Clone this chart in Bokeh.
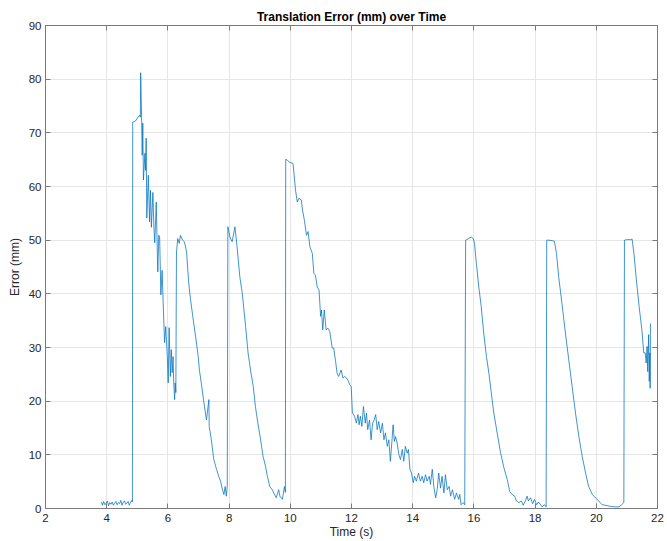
from bokeh.plotting import figure
from bokeh.models import LinearAxis, FixedTicker, Range1d
from bokeh.embed import file_html
from bokeh.resources import INLINE

# ---- data ----
time_s = [
    3.83, 3.86, 3.90, 3.94, 3.98, 4.02, 4.06, 4.10, 4.14, 4.18, 4.22, 4.26, 4.30, 4.34,
    4.38, 4.42, 4.46, 4.50, 4.54, 4.58, 4.62, 4.66, 4.70, 4.74, 4.78, 4.82, 4.84,
    4.85, 4.94, 5.01, 5.08, 5.10, 5.11, 5.14, 5.16, 5.18, 5.20, 5.25, 5.27, 5.29, 5.31,
    5.36, 5.40, 5.43, 5.46, 5.51, 5.54, 5.57, 5.62, 5.65, 5.67, 5.70, 5.73, 5.77, 5.81,
    5.87, 5.89, 5.93, 5.98, 6.01, 6.04, 6.08, 6.11, 6.14, 6.17, 6.19, 6.22, 6.24, 6.26,
    6.28, 6.32, 6.37, 6.41, 6.48, 6.54, 6.61, 6.68, 6.74, 6.83, 6.92, 6.99, 7.03, 7.09,
    7.17, 7.26, 7.34, 7.35, 7.42, 7.50, 7.59, 7.66, 7.72, 7.77, 7.83, 7.87, 7.91, 7.94,
    7.96, 8.03, 8.10, 8.19, 8.26, 8.35, 8.43, 8.54, 8.62, 8.70, 8.79, 8.86, 8.94, 9.03,
    9.11, 9.19, 9.25, 9.33, 9.41, 9.46, 9.54, 9.62, 9.66, 9.74, 9.81, 9.84,
    9.85, 9.90, 9.98, 10.09, 10.17, 10.23, 10.28, 10.36, 10.40, 10.46, 10.53, 10.58,
    10.64, 10.72, 10.77, 10.82, 10.88, 10.94, 10.99, 11.02, 11.06, 11.11, 11.17, 11.23,
    11.29, 11.37, 11.42, 11.48, 11.53, 11.58, 11.66, 11.72, 11.77, 11.84, 11.90, 11.94,
    11.99, 12.03, 12.10, 12.16, 12.21, 12.25, 12.29, 12.34, 12.39, 12.45, 12.49, 12.53,
    12.59, 12.64, 12.69, 12.74, 12.79, 12.84, 12.89, 12.95, 13.01, 13.06, 13.11, 13.17,
    13.22, 13.27, 13.32, 13.36, 13.40, 13.44, 13.49, 13.55, 13.60, 13.66, 13.71, 13.76,
    13.82, 13.86, 13.91, 13.96, 14.02, 14.06, 14.12, 14.19, 14.25, 14.31, 14.36, 14.42,
    14.47, 14.54, 14.58, 14.64, 14.69, 14.75, 14.80, 14.85, 14.91, 14.96, 15.02, 15.07,
    15.13, 15.19, 15.24, 15.30, 15.37, 15.43, 15.50, 15.54, 15.58, 15.65, 15.70,
    15.73, 15.83, 15.91, 15.98, 16.02, 16.08, 16.16, 16.24, 16.32, 16.41, 16.49, 16.57,
    16.65, 16.76, 16.87, 16.98, 17.09, 17.17, 17.25, 17.33, 17.39, 17.47, 17.55, 17.61,
    17.68, 17.74, 17.78, 17.85, 17.92, 17.98, 18.05, 18.11, 18.18, 18.23, 18.31, 18.36,
    18.38, 18.45, 18.56, 18.63, 18.70, 18.77, 18.89, 18.99, 19.10, 19.21, 19.32, 19.43,
    19.54, 19.65, 19.75, 19.87, 19.97, 20.08, 20.19, 20.30, 20.46, 20.63, 20.74, 20.81,
    20.90, 20.92, 21.01, 21.12, 21.17, 21.23, 21.31, 21.40, 21.49, 21.55, 21.60, 21.63,
    21.66, 21.68, 21.71, 21.73, 21.75, 21.76, 21.77,
]
error_mm = [
    1.2, 0.6, 1.3, 0.7, 1.0, 1.4, 0.5, 1.1, 0.8, 1.2, 0.6, 1.0, 1.3, 0.7,
    1.1, 0.9, 1.5, 0.6, 1.2, 1.4, 0.8, 1.0, 1.3, 0.6, 1.1, 1.5, 1.2,
    72.0, 72.2, 72.8, 73.3, 72.9, 81.2, 73.0, 65.8, 71.8, 61.2, 66.2, 63.0, 69.0, 54.1,
    62.1, 53.4, 59.3, 52.4, 58.9, 52.8, 49.5, 57.1, 48.7, 44.1, 50.9, 50.6, 39.8, 44.4,
    34.2, 30.9, 33.9, 28.3, 23.4, 33.7, 24.6, 29.6, 25.3, 28.3, 23.4, 20.3, 23.4, 21.6,
    47.6, 50.3, 49.4, 50.9, 50.0, 49.7, 47.8, 42.0, 38.9, 35.1, 31.4, 28.3, 25.8, 23.4,
    20.0, 16.5, 20.3, 15.3, 12.8, 9.1, 7.3, 6.0, 5.1, 3.8, 2.6, 4.1, 2.3, 4.1,
    52.5, 50.5, 49.7, 52.5, 48.8, 43.2, 40.1, 33.9, 29.0, 25.8, 22.7, 19.0, 15.9, 12.8,
    9.7, 7.9, 6.0, 4.1, 3.5, 2.9, 2.0, 3.5, 2.3, 1.7, 4.1, 3.0,
    65.1, 64.9, 64.5, 64.3, 59.3, 57.1, 57.8, 57.5, 55.6, 53.7, 50.9, 51.6,
    48.8, 47.5, 43.8, 43.5, 41.3, 40.7, 35.8, 37.0, 33.3, 37.0, 33.3, 33.6,
    33.0, 29.9, 29.9, 27.4, 25.2, 24.6, 25.8, 24.3, 24.6, 24.3, 23.7, 23.1,
    22.7, 17.8, 17.2, 15.9, 17.5, 15.6, 17.2, 15.3, 19.0, 15.9, 17.8, 14.7,
    16.5, 12.8, 15.9, 16.5, 17.5, 14.7, 16.2, 14.1, 15.9, 12.8, 14.1, 11.6,
    12.8, 8.8, 12.5, 15.6, 12.5, 13.4, 12.2, 10.0, 9.1, 11.0, 8.8, 11.6,
    10.3, 11.0, 7.3, 6.6, 4.8, 6.0, 5.1, 6.6, 5.1, 6.0, 4.8, 6.3,
    5.1, 6.0, 4.5, 7.3, 4.1, 2.0, 3.5, 6.6, 3.8, 6.0, 2.9, 6.3,
    3.5, 4.1, 2.3, 3.5, 1.7, 2.9, 1.7, 2.6, 0.7, 1.1, 0.7,
    50.0, 50.3, 50.6, 50.3, 49.4, 45.7, 41.3, 37.6, 32.7, 28.3, 25.2, 21.5,
    17.8, 14.1, 10.4, 7.6, 5.4, 3.2, 2.6, 2.3, 1.4, 1.1, 1.4, 0.6,
    1.4, 2.3, 1.4, 2.0, 0.9, 1.7, 0.7, 1.2, 0.7, 0.3, 0.7, 0.3,
    50.0, 50.0, 49.9, 49.8, 47.5, 43.2, 37.6, 32.7, 27.7, 22.7, 17.8, 13.4,
    9.7, 6.6, 4.1, 2.6, 2.0, 1.4, 0.7, 0.6, 0.4, 0.3, 0.3, 0.6,
    1.1, 50.0, 50.1, 50.1, 50.2, 47.5, 42.6, 37.6, 33.3, 29.0, 29.0, 27.1,
    30.2, 25.5, 32.4, 23.7, 29.0, 22.4, 34.5,
]
x_ticks = [2, 4, 6, 8, 10, 12, 14, 16, 18, 20, 22]
y_ticks = [0, 10, 20, 30, 40, 50, 60, 70, 80, 90]

FONT = "Liberation Sans"
AXIS_COL = "#7a7a7a"
TEXT_COL = "#262626"
GRID_COL = "#e6e6e6"

p = figure(width=667, height=541, output_backend="svg", toolbar_location=None,
           x_range=Range1d(2, 22), y_range=Range1d(0, 90),
           min_border_left=45, min_border_right=10, min_border_top=25,
           min_border_bottom=32,
           title="Translation Error (mm) over Time")

p.title.align = "center"
p.title.text_font = FONT
p.title.text_font_size = "12px"
p.title.text_font_style = "bold"
p.title.text_color = "#000000"
p.title.standoff = 4

p.outline_line_color = AXIS_COL
p.outline_line_width = 1
p.background_fill_color = "white"
p.border_fill_color = "white"

xa = p.xaxis[0]
ya = p.yaxis[0]
for ax, ticks in ((xa, x_ticks), (ya, y_ticks)):
    ax.ticker = FixedTicker(ticks=ticks)
    ax.axis_line_color = AXIS_COL
    ax.major_tick_line_color = AXIS_COL
    ax.major_tick_in = 5
    ax.major_tick_out = 0
    ax.minor_tick_line_color = None
    ax.major_label_text_font = FONT
    ax.major_label_text_font_size = "11.5px"
    ax.major_label_text_color = TEXT_COL
    ax.axis_label_text_font = FONT
    ax.axis_label_text_font_size = "12px"
    ax.axis_label_text_font_style = "normal"
    ax.axis_label_text_color = TEXT_COL

xa.axis_label = "Time (s)"
xa.major_label_standoff = 5
xa.axis_label_standoff = 0
ya.axis_label = "Error (mm)"
ya.major_label_standoff = 4
ya.axis_label_standoff = 4

# box ticks on the opposite sides (tick marks only, no labels drawn)
for loc, ticks in (("above", x_ticks), ("right", y_ticks)):
    ax = LinearAxis(ticker=FixedTicker(ticks=ticks))
    ax.axis_line_color = AXIS_COL
    ax.major_tick_line_color = AXIS_COL
    ax.major_tick_in = 5
    ax.major_tick_out = 0
    ax.minor_tick_line_color = None
    ax.major_label_text_color = None
    ax.major_label_text_font_size = "1px"
    ax.major_label_standoff = 0
    p.add_layout(ax, loc)

p.xgrid.ticker = FixedTicker(ticks=x_ticks)
p.ygrid.ticker = FixedTicker(ticks=y_ticks)
p.grid.grid_line_color = GRID_COL
p.grid.grid_line_width = 1

p.line(time_s, error_mm, line_color="#0072BD", line_width=0.75)

open("out.html", "w").write(file_html(p, INLINE))
